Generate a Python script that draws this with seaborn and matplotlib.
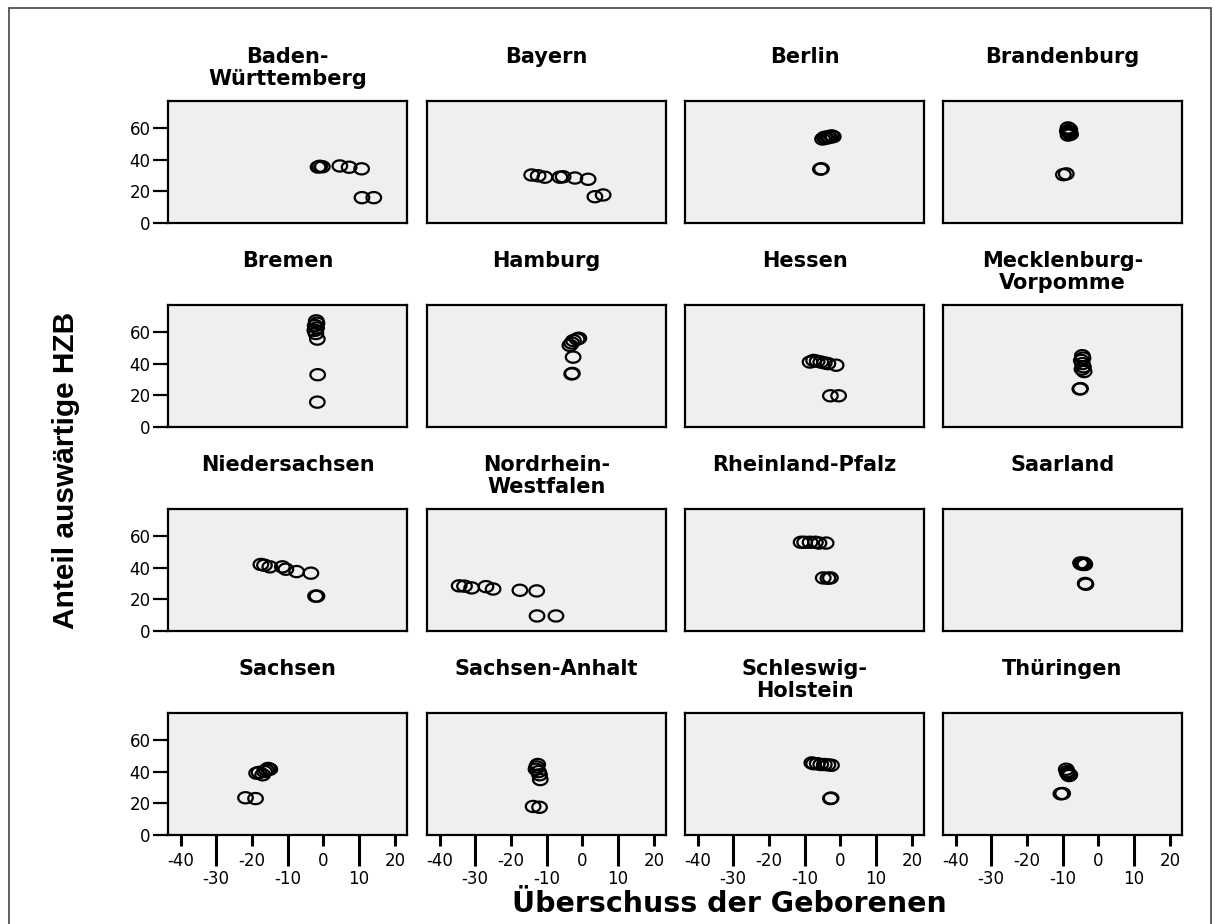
import numpy as np
import pandas as pd
import matplotlib
matplotlib.use("Agg")
import matplotlib.pyplot as plt
from matplotlib.path import Path
from matplotlib.patches import Rectangle
import seaborn as sns

# Bundesländer in panel order
laender = [
    "Baden-\nWürttemberg", "Bayern", "Berlin", "Brandenburg",
    "Bremen", "Hamburg", "Hessen", "Mecklenburg-\nVorpomme",
    "Niedersachsen", "Nordrhein-\nWestfalen", "Rheinland-Pfalz", "Saarland",
    "Sachsen", "Sachsen-Anhalt", "Schleswig-\nHolstein", "Thüringen",
]

# Überschuss der Geborenen (x) per Land
ueberschuss = [
    [-1.5, -1.0, -0.3, 4.6, 7.2, 10.7, 10.8, 14.1],
    [-14.2, -12.4, -10.5, -6.3, -5.4, -2.1, 1.6, 3.5, 5.8],
    [-5.0, -4.5, -4.0, -3.5, -3.0, -2.5, -2.0, -5.6, -5.3],
    [-8.5, -8.0, -8.7, -8.2, -7.8, -8.5, -8.0, -9.8, -9.0],
    [-2.0, -1.8, -2.3, -1.9, -2.4, -2.1, -1.7, -1.6, -1.7],
    [-3.5, -3.0, -2.5, -1.5, -1.0, -2.6, -3.0, -2.8],
    [-8.5, -7.5, -6.5, -5.5, -4.5, -3.5, -1.2, -2.8, -0.5],
    [-4.5, -4.3, -4.8, -4.5, -4.2, -4.6, -4.0, -5.2, -5.0],
    [-17.5, -16.5, -15.0, -11.5, -10.5, -7.5, -3.5, -2.2, -1.8],
    [-34.5, -33.0, -31.0, -27.0, -25.0, -17.5, -12.8, -12.7, -7.4],
    [-11.0, -10.0, -8.5, -7.0, -6.0, -4.0, -4.8, -3.5, -2.8],
    [-5.0, -4.5, -4.2, -4.8, -4.0, -3.8, -3.7, -3.5],
    [-18.7, -18.0, -17.0, -16.0, -15.5, -15.0, -16.5, -21.8, -19.0],
    [-12.5, -12.8, -13.0, -12.3, -12.0, -11.8, -13.8, -12.0],
    [-8.0, -7.5, -6.5, -5.5, -4.5, -3.5, -2.5, -2.8, -2.6],
    [-9.0, -8.8, -8.5, -8.2, -8.0, -8.6, -10.5, -10.0],
]

# Anteil auswärtige HZB (y) per Land
anteil_hzb = [
    [35.3, 35.8, 35.5, 36.0, 35.2, 34.2, 16.0, 16.0],
    [30.3, 29.8, 28.9, 28.9, 29.2, 28.4, 27.6, 16.6, 17.7],
    [53.0, 54.0, 53.5, 54.5, 54.0, 55.0, 54.5, 34.0, 34.2],
    [60.0, 59.0, 58.0, 57.0, 56.0, 55.5, 57.5, 30.5, 31.0],
    [67.0, 65.5, 64.0, 62.5, 61.0, 59.0, 55.5, 33.0, 15.7],
    [51.5, 53.0, 54.5, 55.5, 56.0, 44.1, 33.5, 33.8],
    [41.0, 42.0, 41.5, 41.0, 40.5, 40.0, 39.0, 19.7, 19.7],
    [45.0, 43.5, 42.0, 40.0, 38.0, 36.5, 35.0, 24.0, 24.2],
    [42.0, 41.5, 40.5, 40.5, 39.0, 37.5, 36.5, 22.0, 22.0],
    [28.5, 28.3, 27.2, 28.0, 26.5, 25.7, 25.3, 9.5, 9.5],
    [56.0, 56.0, 56.0, 56.0, 55.5, 55.5, 33.5, 33.3, 33.5],
    [43.0, 42.5, 42.0, 42.3, 42.8, 42.0, 30.0, 29.5],
    [39.0, 39.5, 38.0, 41.0, 42.0, 41.5, 40.0, 23.5, 23.0],
    [44.5, 43.0, 41.5, 40.0, 38.0, 35.0, 18.0, 17.5],
    [45.5, 45.0, 45.0, 44.5, 44.5, 44.3, 44.0, 23.0, 23.3],
    [41.5, 40.0, 38.5, 37.5, 38.0, 39.0, 26.0, 26.2],
]

x_major = [-40, -20, 0, 20]
x_minor = [-30, -10, 10]
y_ticks = [0, 20, 40, 60]

df = pd.DataFrame({
    "Land": [l for l, xs in zip(laender, ueberschuss) for _ in xs],
    "Ueberschuss": [v for xs in ueberschuss for v in xs],
    "Anteil": [v for ys in anteil_hzb for v in ys],
})

sns.set_theme(style="white")
plt.rcParams["font.family"] = ["DejaVu Sans"]

W, H = 1215, 924
g = sns.FacetGrid(df, col="Land", col_order=laender, col_wrap=4,
                  sharex=True, sharey=True, despine=False, height=2, aspect=2)
g.figure.set_size_inches(W / 100, H / 100)
g.figure.set_dpi(100)

# slightly wide ellipse as the open-circle marker
t = np.linspace(0, 2 * np.pi, 60)
ellipse = Path(np.column_stack([1.3 * np.cos(t), np.sin(t)]), closed=True)

g.map_dataframe(sns.scatterplot, x="Ueberschuss", y="Anteil",
                marker=ellipse, s=110, facecolor="none",
                edgecolor="black", linewidth=1.6)

col_left = [168, 427, 685, 943]
row_top = [101, 305, 509, 713]
pw, ph = 239, 122

# shared scales and ticks, set once
ax0 = g.axes.flat[0]
ax0.set_xlim(-43.5, 23.4)
ax0.set_ylim(0, 77)
ax0.set_yticks(y_ticks)
ax0.set_yticklabels([str(v) for v in y_ticks])
ax0.set_xticks(x_major)
ax0.set_xticklabels([str(v) for v in x_major])
ax0.set_xticks(x_minor, minor=True)
ax0.set_xticklabels([str(v) for v in x_minor], minor=True)

for i, ax in enumerate(g.axes.flat):
    r, c = divmod(i, 4)
    left, top = col_left[c], row_top[r]
    ax.set_position([left / W, 1 - (top + ph) / H, pw / W, ph / H])
    ax.set_facecolor("#efefef")
    for sp in ax.spines.values():
        sp.set_visible(True)
        sp.set_color("black")
        sp.set_linewidth(1.6)
    ax.set_title("")
    ax.set_xlabel("")
    ax.set_ylabel("")

    # y axis only on first column
    if c == 0:
        ax.tick_params(axis="y", which="major", left=True, direction="out",
                       length=11, width=1.6, color="black", pad=1.5,
                       labelsize=12, labelcolor="black", labelleft=True)
    else:
        ax.tick_params(axis="y", which="both", left=False, labelleft=False)

    # x axis only on bottom row, with staggered labels
    if r == 3:
        ax.tick_params(axis="x", which="major", bottom=True, direction="out",
                       length=8, width=2.2, color="black", pad=4,
                       labelsize=12, labelcolor="black", labelbottom=True)
        ax.tick_params(axis="x", which="minor", bottom=True, direction="out",
                       length=22, width=2.2, color="black", pad=3,
                       labelsize=12, labelcolor="black", labelbottom=True)
    else:
        ax.tick_params(axis="x", which="both", bottom=False, labelbottom=False)

    # panel title
    ax.text(0.5, 1 + 54 / ph, laender[i], transform=ax.transAxes,
            ha="center", va="top", fontsize=15, fontweight="bold",
            color="black", linespacing=1.15)

fig = g.figure
fig.text(729 / W, 1 - 904 / H, "Überschuss der Geborenen",
         ha="center", va="center", fontsize=20.5, fontweight="bold",
         color="black")
fig.text(66 / W, 1 - 470 / H, "Anteil auswärtige HZB",
         rotation=90, ha="center", va="center", fontsize=21.5,
         fontweight="bold", color="black",
         family=["Liberation Sans", "DejaVu Sans"])

# outer frame
fig.add_artist(Rectangle((9 / W, -0.01), (1211 - 9) / W, 1 - 8 / H + 0.01,
                         transform=fig.transFigure, fill=False,
                         edgecolor="#444444", linewidth=1.2))

fig.savefig("out.png", dpi=100, facecolor="white")
